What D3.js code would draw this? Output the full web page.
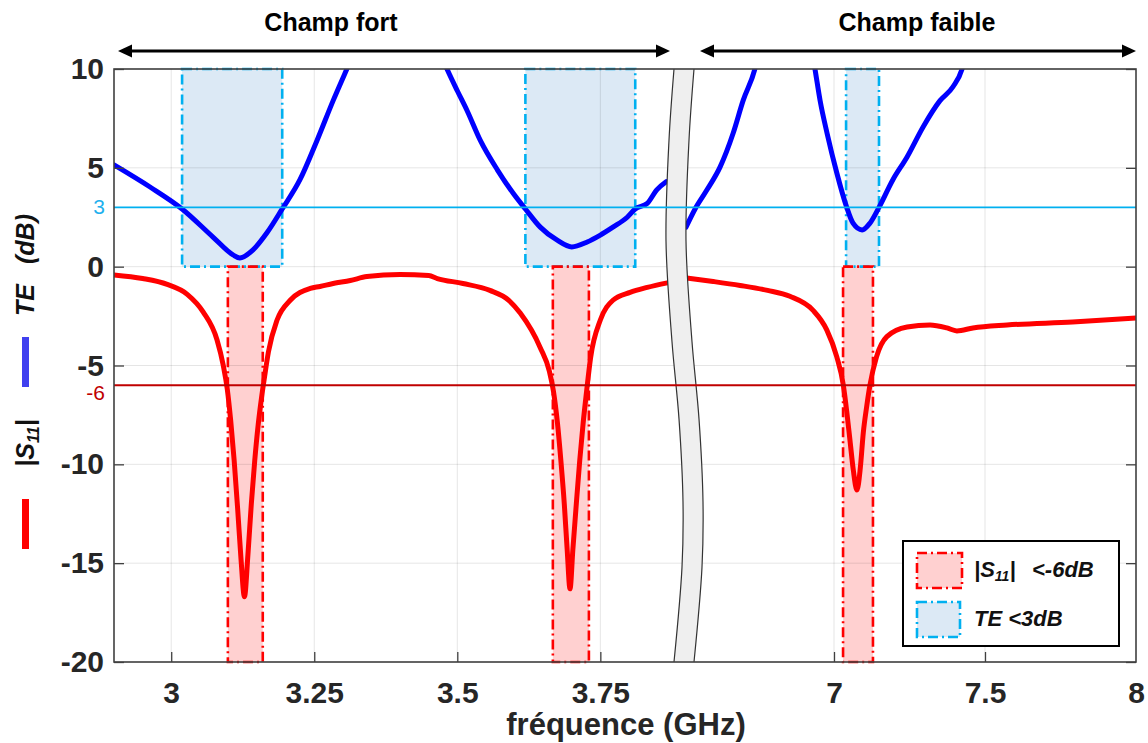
<!DOCTYPE html>
<html><head><meta charset="utf-8">
<script src="https://cdn.jsdelivr.net/npm/d3@7"></script>
<style>body{margin:0;background:#fff}svg{display:block}text{font-family:"Liberation Sans",Arial,sans-serif}</style>
</head><body><svg id="c" width="1148" height="743"></svg>
<script>
// ---------- data ----------
const yTicks = [-20, -15, -10, -5, 0, 5, 10];
const xTicksLeft = [3, 3.25, 3.5, 3.75];
const xTicksRight = [7, 7.5, 8];
const xTickLabelsLeft = ["3", "3.25", "3.5", "3.75"];
const xTickLabelsRight = ["7", "7.5", "8"];

// |S11| (dB) - strong field segment
const s11FreqLeft = [2.9, 2.95, 2.993, 3.028, 3.056, 3.08, 3.091, 3.098, 3.104, 3.110, 3.116, 3.122, 3.128, 3.134, 3.140, 3.146, 3.152, 3.158, 3.163, 3.170, 3.185, 3.208, 3.243, 3.26, 3.283, 3.313, 3.342, 3.4, 3.45, 3.465, 3.51, 3.557, 3.59, 3.61, 3.645, 3.661, 3.668, 3.675, 3.681, 3.687, 3.692, 3.697, 3.702, 3.708, 3.714, 3.720, 3.726, 3.733, 3.75, 3.772, 3.802, 3.832, 3.867];
const s11Left = [-0.42, -0.6, -0.9, -1.4, -2.3, -3.7, -5.0, -6.2, -7.8, -9.8, -12.2, -14.8, -16.7, -14.6, -12.0, -9.8, -8.0, -6.6, -5.6, -4.3, -2.7, -1.7, -1.1, -1.0, -0.85, -0.7, -0.5, -0.4, -0.45, -0.6, -0.85, -1.2, -1.7, -2.35, -4.1, -5.3, -6.3, -7.9, -9.8, -12.0, -14.3, -16.3, -14.3, -12.0, -9.8, -7.9, -6.3, -4.6, -2.7, -1.7, -1.3, -1.05, -0.82];
// |S11| (dB) - weak field segment
const s11FreqRight = [6.5, 6.6, 6.689, 6.78, 6.854, 6.93, 6.976, 7.009, 7.031, 7.042, 7.053, 7.064, 7.076, 7.087, 7.097, 7.108, 7.119, 7.141, 7.175, 7.242, 7.318, 7.374, 7.407, 7.46, 7.573, 7.79, 8.0];
const s11Right = [-0.55, -0.75, -0.95, -1.2, -1.5, -2.2, -3.2, -4.55, -6.0, -7.3, -8.8, -10.3, -11.3, -10.2, -8.4, -7.1, -6.0, -4.55, -3.54, -3.05, -2.95, -3.1, -3.25, -3.1, -2.95, -2.8, -2.6];

// TE (dB) - strong field segment (values above 10 leave the plot)
const teFreqLeft = [2.9, 2.963, 3.019, 3.073, 3.108, 3.12, 3.143, 3.167, 3.194, 3.225, 3.255, 3.283, 3.307, 3.33, 3.46, 3.482, 3.5, 3.517, 3.54, 3.57, 3.598, 3.619, 3.645, 3.674, 3.70, 3.727, 3.75, 3.772, 3.797, 3.811, 3.832, 3.849, 3.865];
const teLeft = [5.15, 4.03, 2.92, 1.5, 0.6, 0.44, 0.85, 1.7, 2.92, 4.4, 6.4, 8.4, 10, 11.5, 11.5, 10, 8.9, 7.9, 6.4, 4.9, 3.7, 2.92, 2.0, 1.35, 1.0, 1.25, 1.6, 2.0, 2.5, 2.92, 3.2, 3.9, 4.3];
// TE (dB) - weak field segment
const teFreqRight = [6.51, 6.54, 6.58, 6.623, 6.666, 6.699, 6.738, 6.76, 6.92, 6.937, 6.954, 6.977, 7.01, 7.04, 7.063, 7.093, 7.119, 7.149, 7.195, 7.242, 7.295, 7.351, 7.394, 7.424, 7.44];
const teRight = [2.0, 2.92, 3.9, 5.05, 6.75, 8.4, 10, 11.5, 11.5, 10, 8.4, 6.75, 4.7, 3.1, 2.2, 1.86, 2.2, 3.0, 4.4, 5.55, 7.07, 8.4, 9.1, 10, 11];

// shaded bands [start GHz, end GHz]
const teBandsLeft = [[3.019, 3.194], [3.619, 3.811]];
const teBandsRight = [[7.04, 7.149]];
const s11BandsLeft = [[3.099, 3.160], [3.667, 3.730]];
const s11BandsRight = [[7.03, 7.129]];

const teThreshold = 3;
const s11Threshold = -6;

// axis-break wave (offsets in px of the band's left edge along its height)
const breakFrac = [0, 0.12, 0.29, 0.46, 0.59, 0.73, 0.84, 1];
const breakOffset = [-2, -7, -10, -4, 3, 7, 6, -2];

// ---------- drawing ----------
const svg = d3.select('#c');
const P = {l: 114, t: 69, r: 1136, b: 662};
const y = d3.scaleLinear().domain([-20, 10]).range([P.b, P.t]);
const xL = d3.scaleLinear().domain([2.9, 3.87]).range([P.l, 669]);
const xR = d3.scaleLinear().domain([6.5, 8]).range([683, P.r]);
const dark = '#262626';

const defs = svg.append('defs');
defs.append('clipPath').attr('id', 'clip').append('rect')
  .attr('x', P.l).attr('y', P.t).attr('width', P.r - P.l).attr('height', P.b - P.t);

function bands(list, xs, top, bot, fill, stroke, g) {
  g.selectAll(null).data(list).enter().append('rect')
    .attr('x', d => xs(d[0])).attr('width', d => xs(d[1]) - xs(d[0]))
    .attr('y', y(top)).attr('height', y(bot) - y(top))
    .attr('fill', fill).attr('stroke', stroke).attr('stroke-width', 2.6)
    .attr('stroke-dasharray', '10,4,2,4');
}
const gBandFill = svg.append('g');
bands(teBandsLeft, xL, 10, 0, '#dce9f5', 'none', gBandFill);
bands(teBandsRight, xR, 10, 0, '#dce9f5', 'none', gBandFill);
bands(s11BandsLeft, xL, 0, -20, '#ffd0d0', 'none', gBandFill);
bands(s11BandsRight, xR, 0, -20, '#ffd0d0', 'none', gBandFill);

// grid
const grid = svg.append('g').attr('stroke', '#000').attr('stroke-opacity', 0.1).attr('stroke-width', 1);
grid.selectAll(null).data(yTicks).enter().append('line')
  .attr('x1', P.l).attr('x2', P.r).attr('y1', d => y(d)).attr('y2', d => y(d));
grid.selectAll(null).data(xTicksLeft).enter().append('line')
  .attr('x1', d => xL(d)).attr('x2', d => xL(d)).attr('y1', P.t).attr('y2', P.b);
grid.selectAll(null).data(xTicksRight.filter(d => d < 8)).enter().append('line')
  .attr('x1', d => xR(d)).attr('x2', d => xR(d)).attr('y1', P.t).attr('y2', P.b);

// band outlines
const gBandLine = svg.append('g');
bands(teBandsLeft, xL, 10, 0, 'none', '#00b0f0', gBandLine);
bands(teBandsRight, xR, 10, 0, 'none', '#00b0f0', gBandLine);
bands(s11BandsLeft, xL, 0, -20, 'none', '#ff0000', gBandLine);
bands(s11BandsRight, xR, 0, -20, 'none', '#ff0000', gBandLine);

// curves
const gCurves = svg.append('g').attr('clip-path', 'url(#clip)');
function curve(fr, vals, xs, color) {
  const pts = fr.map((f, i) => [f, vals[i]]);
  gCurves.append('path').datum(pts)
    .attr('d', d3.line().x(d => xs(d[0])).y(d => y(d[1])).curve(d3.curveMonotoneX))
    .attr('fill', 'none').attr('stroke', color).attr('stroke-width', 5)
    .attr('stroke-linejoin', 'round').attr('stroke-linecap', 'round');
}
curve(s11FreqLeft, s11Left, xL, '#ff0000');
curve(s11FreqRight, s11Right, xR, '#ff0000');
curve(teFreqLeft, teLeft, xL, '#0000ff');
curve(teFreqRight, teRight, xR, '#0000ff');

// axis break band
const cx = (xL(3.87) + xR(6.5)) / 2;
const bw = 20;
const leftEdge = breakFrac.map((f, i) => [cx + breakOffset[i], P.t + f * (P.b - P.t)]);
const rightEdge = leftEdge.map(p => [p[0] + bw, p[1]]);
const edgeLine = d3.line().x(d => d[0]).y(d => d[1]).curve(d3.curveCatmullRom);
const areaPath = edgeLine(leftEdge) + 'L' + edgeLine(rightEdge.slice().reverse()).slice(1) + 'Z';
svg.append('path').attr('d', areaPath).attr('fill', '#efefef').attr('stroke', 'none');
svg.append('path').attr('d', edgeLine(leftEdge)).attr('fill', 'none').attr('stroke', '#333').attr('stroke-width', 1.2);
svg.append('path').attr('d', edgeLine(rightEdge)).attr('fill', 'none').attr('stroke', '#333').attr('stroke-width', 1.2);

// threshold lines
svg.append('line').attr('x1', P.l).attr('x2', P.r).attr('y1', y(teThreshold)).attr('y2', y(teThreshold))
  .attr('stroke', '#00b0f0').attr('stroke-width', 1.8);
svg.append('line').attr('x1', P.l).attr('x2', P.r).attr('y1', y(s11Threshold)).attr('y2', y(s11Threshold))
  .attr('stroke', '#c00000').attr('stroke-width', 2);

// axes
const axFont = g => g.selectAll('text').attr('font-family', '"Liberation Sans", Arial, sans-serif')
  .attr('font-size', 30).attr('font-weight', 'bold').attr('fill', dark);
const axLine = g => { g.select('.domain').remove(); g.selectAll('line').attr('stroke', '#404040').attr('stroke-width', 1.3); };

svg.append('g').attr('transform', `translate(${P.l},0)`)
  .call(d3.axisLeft(y).tickValues(yTicks).tickSizeInner(-10).tickSizeOuter(0).tickPadding(10).tickFormat(d3.format('d')))
  .call(axFont).call(axLine)
  .call(g => g.selectAll('text').text(d => d < 0 ? '-' + Math.abs(d) : d));
svg.append('g').attr('transform', `translate(${P.r},0)`)
  .call(d3.axisRight(y).tickValues(yTicks).tickSizeInner(-10).tickSizeOuter(0).tickFormat(''))
  .call(axLine);
svg.append('g').attr('transform', `translate(0,${P.b})`)
  .call(d3.axisBottom(xL).tickValues(xTicksLeft).tickSizeInner(-10).tickSizeOuter(0).tickPadding(20)
    .tickFormat((d, i) => xTickLabelsLeft[i]))
  .call(axFont).call(axLine);
svg.append('g').attr('transform', `translate(0,${P.b})`)
  .call(d3.axisBottom(xR).tickValues(xTicksRight).tickSizeInner(-10).tickSizeOuter(0).tickPadding(20)
    .tickFormat((d, i) => xTickLabelsRight[i]))
  .call(axFont).call(axLine)
  .call(g => g.selectAll('.tick').filter(d => d === 8).select('line').remove());

// box
svg.append('rect').attr('x', P.l).attr('y', P.t).attr('width', P.r - P.l).attr('height', P.b - P.t)
  .attr('fill', 'none').attr('stroke', '#404040').attr('stroke-width', 1.6);

// threshold labels
svg.append('text').attr('x', 105).attr('y', y(teThreshold) + 7).attr('text-anchor', 'end')
  .attr('font-size', 21).attr('fill', '#1fb1ee').text('3');
svg.append('text').attr('x', 105).attr('y', y(s11Threshold) + 15).attr('text-anchor', 'end')
  .attr('font-size', 21).attr('fill', '#c00000').text('-6');

// x title
svg.append('text').attr('x', 626).attr('y', 735).attr('text-anchor', 'middle')
  .attr('font-size', 31).attr('font-weight', 'bold').attr('fill', dark).text('fréquence (GHz)');

// y title (rotated)
const yt = svg.append('g');
yt.append('rect').attr('x', 22).attr('y', 499).attr('width', 7).attr('height', 50).attr('fill', '#ff0000');
yt.append('rect').attr('x', 22).attr('y', 337).attr('width', 7).attr('height', 50).attr('fill', '#4040ef');
function rotText(cy, build) {
  const t = yt.append('text').attr('transform', `translate(34,${cy}) rotate(-90)`).attr('text-anchor', 'middle')
    .attr('font-size', 25).attr('font-weight', 'bold').attr('font-style', 'italic').attr('fill', '#111');
  build(t);
}
rotText(443, t => { t.append('tspan').text('|S'); t.append('tspan').attr('font-size', 16).attr('dy', 5).text('11'); t.append('tspan').attr('dy', -5).text('|'); });
rotText(300, t => t.text('TE'));
rotText(239, t => t.text('(dB)'));

// top arrows
function arrow(x1, x2, yy) {
  const g = svg.append('g');
  g.append('line').attr('x1', x1 + 10).attr('x2', x2 - 10).attr('y1', yy).attr('y2', yy).attr('stroke', '#000').attr('stroke-width', 3);
  g.append('path').attr('d', `M${x1},${yy}L${x1 + 14},${yy - 6.5}L${x1 + 14},${yy + 6.5}Z`).attr('fill', '#000');
  g.append('path').attr('d', `M${x2},${yy}L${x2 - 14},${yy - 6.5}L${x2 - 14},${yy + 6.5}Z`).attr('fill', '#000');
}
arrow(P.l + 4, xL(3.87) + 1, 51);
arrow(xR(6.5) + 17, P.r, 51);
svg.append('text').attr('x', 331).attr('y', 31).attr('text-anchor', 'middle').attr('font-family', '"Noto Sans", sans-serif')
  .attr('font-size', 25).attr('font-weight', 'bold').attr('fill', '#000').text('Champ fort');
svg.append('text').attr('x', 917).attr('y', 31).attr('text-anchor', 'middle').attr('font-family', '"Noto Sans", sans-serif')
  .attr('font-size', 25).attr('font-weight', 'bold').attr('fill', '#000').text('Champ faible');

// legend
const lg = svg.append('g');
lg.append('rect').attr('x', 903).attr('y', 541).attr('width', 216).attr('height', 105)
  .attr('fill', '#fff').attr('stroke', '#000').attr('stroke-width', 2);
lg.append('rect').attr('x', 917).attr('y', 553).attr('width', 45).attr('height', 35)
  .attr('fill', '#ffd0d0').attr('stroke', '#ff0000').attr('stroke-width', 2.6).attr('stroke-dasharray', '10,4,2,4');
lg.append('rect').attr('x', 917).attr('y', 602).attr('width', 43).attr('height', 35)
  .attr('fill', '#dce9f5').attr('stroke', '#00b0f0').attr('stroke-width', 2.6).attr('stroke-dasharray', '10,4,2,4');
const l1 = lg.append('text').attr('x', 974).attr('y', 577).attr('font-size', 22).attr('font-weight', 'bold')
  .attr('font-style', 'italic').attr('fill', '#111');
l1.append('tspan').text('|S');
l1.append('tspan').attr('font-size', 14).attr('dy', 4).text('11');
l1.append('tspan').attr('dy', -4).text('|');
l1.append('tspan').attr('x', 1032).text('<-6dB');
lg.append('text').attr('x', 974).attr('y', 626).attr('font-size', 22).attr('font-weight', 'bold')
  .attr('font-style', 'italic').attr('fill', '#111').text('TE <3dB');
</script></body></html>
